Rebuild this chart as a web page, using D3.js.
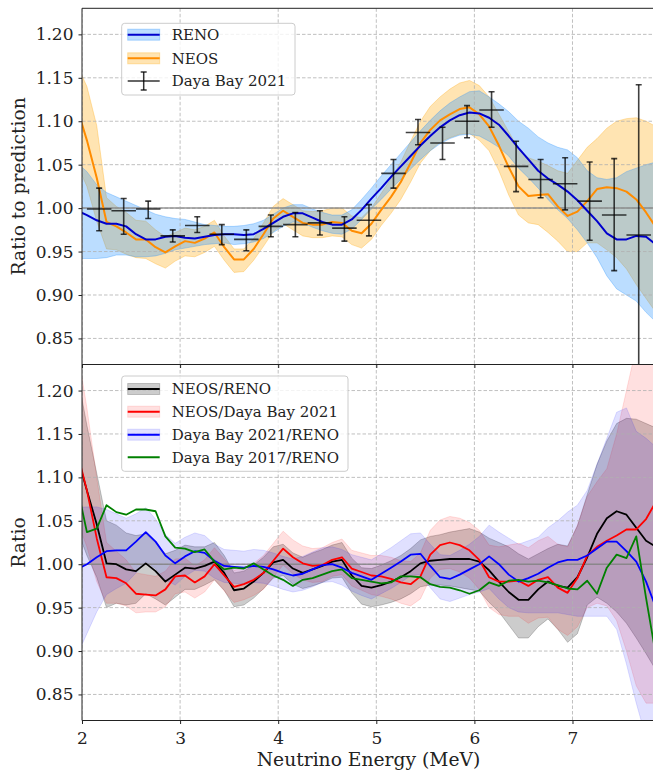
<!DOCTYPE html>
<html>
<head>
<meta charset="utf-8">
<script src="https://cdn.jsdelivr.net/npm/d3@7"></script>
<style>
  body { margin: 0; background: #fff; }
  svg { display: block; }
</style>
</head>
<body>
<svg id="chart"></svg>
<script>
// energy grid shared by all the curves (MeV)
const energy = [1.95, 2.05, 2.15, 2.25, 2.35, 2.45, 2.55, 2.65, 2.75, 2.85,
  2.95, 3.05, 3.15, 3.25, 3.35, 3.45, 3.55, 3.65, 3.75, 3.85,
  3.95, 4.05, 4.15, 4.25, 4.35, 4.45, 4.55, 4.65, 4.75, 4.85,
  4.95, 5.05, 5.15, 5.25, 5.35, 5.45, 5.55, 5.65, 5.75, 5.85,
  5.95, 6.05, 6.15, 6.25, 6.35, 6.45, 6.55, 6.65, 6.75, 6.85,
  6.95, 7.05, 7.15, 7.25, 7.35, 7.45, 7.55, 7.65, 7.75, 7.85];

// ---- top panel: ratio to prediction ----
const reno = [0.997, 0.992, 0.986, 0.982, 0.982, 0.979, 0.970, 0.964, 0.964, 0.967,
  0.968, 0.966, 0.965, 0.967, 0.969, 0.970, 0.970, 0.969, 0.970, 0.976,
  0.983, 0.990, 0.994, 0.994, 0.989, 0.984, 0.981, 0.981, 0.987, 0.998,
  1.011, 1.023, 1.036, 1.048, 1.060, 1.072, 1.083, 1.093, 1.101, 1.107,
  1.110, 1.109, 1.104, 1.096, 1.083, 1.069, 1.056, 1.043, 1.034, 1.027,
  1.019, 1.009, 0.997, 0.985, 0.971, 0.964, 0.964, 0.968, 0.967, 0.958];
const renoHi = [1.052, 1.042, 1.027, 1.018, 1.013, 1.008, 1.003, 0.998, 0.993, 0.990,
  0.988, 0.987, 0.984, 0.981, 0.980, 0.979, 0.979, 0.980, 0.982, 0.986,
  0.993, 1.000, 1.004, 1.004, 0.999, 0.995, 0.992, 0.992, 0.998, 1.010,
  1.023, 1.037, 1.050, 1.063, 1.076, 1.089, 1.101, 1.112, 1.121, 1.128,
  1.134, 1.135, 1.128, 1.120, 1.111, 1.100, 1.092, 1.082, 1.075, 1.070,
  1.067, 1.058, 1.043, 1.035, 1.033, 1.035, 1.042, 1.046, 1.050, 1.053];
const renoLo = [0.942, 0.942, 0.942, 0.943, 0.946, 0.946, 0.944, 0.944, 0.945, 0.948,
  0.952, 0.954, 0.956, 0.958, 0.959, 0.960, 0.958, 0.959, 0.961, 0.965,
  0.972, 0.979, 0.984, 0.983, 0.978, 0.974, 0.971, 0.970, 0.976, 0.987,
  0.999, 1.010, 1.022, 1.033, 1.045, 1.056, 1.066, 1.074, 1.080, 1.084,
  1.085, 1.083, 1.077, 1.070, 1.060, 1.046, 1.035, 1.023, 1.010, 0.998,
  0.988, 0.975, 0.960, 0.943, 0.922, 0.907, 0.900, 0.893, 0.880, 0.869];

const neos = [1.115, 1.078, 1.035, 0.984, 0.979, 0.972, 0.964, 0.964, 0.955, 0.949,
  0.956, 0.962, 0.960, 0.965, 0.972, 0.955, 0.941, 0.941, 0.953, 0.970,
  0.988, 0.997, 0.990, 0.983, 0.981, 0.981, 0.984, 0.983, 0.974, 0.971,
  0.982, 0.998, 1.013, 1.030, 1.052, 1.075, 1.090, 1.101, 1.108, 1.114,
  1.116, 1.108, 1.094, 1.072, 1.047, 1.025, 1.014, 1.015, 1.016, 1.002,
  0.991, 0.996, 1.008, 1.022, 1.024, 1.023, 1.019, 1.010, 0.995, 0.978];
const neosHi = [1.165, 1.140, 1.095, 1.012, 1.002, 0.995, 0.986, 0.985, 0.975, 0.967,
  0.972, 0.977, 0.975, 0.979, 0.986, 0.968, 0.953, 0.953, 0.965, 0.983,
  1.002, 1.011, 1.004, 0.997, 0.996, 0.997, 1.000, 1.000, 0.991, 0.989,
  1.000, 1.017, 1.034, 1.053, 1.077, 1.100, 1.117, 1.128, 1.137, 1.144,
  1.147, 1.141, 1.128, 1.108, 1.088, 1.068, 1.058, 1.054, 1.049, 1.043,
  1.040, 1.055, 1.070, 1.080, 1.092, 1.100, 1.103, 1.104, 1.100, 1.094];
const neosLo = [1.050, 1.025, 0.985, 0.953, 0.952, 0.947, 0.943, 0.942, 0.936, 0.931,
  0.939, 0.945, 0.944, 0.949, 0.956, 0.940, 0.926, 0.927, 0.940, 0.956,
  0.973, 0.982, 0.975, 0.968, 0.966, 0.966, 0.968, 0.967, 0.958, 0.954,
  0.964, 0.980, 0.994, 1.010, 1.030, 1.052, 1.066, 1.076, 1.081, 1.085,
  1.086, 1.078, 1.066, 1.043, 1.015, 0.992, 0.983, 0.981, 0.972, 0.962,
  0.950, 0.950, 0.960, 0.960, 0.952, 0.943, 0.930, 0.912, 0.896, 0.880];

// Daya Bay 2021 points (bin centres, half width 0.125 MeV)
const dybE = [2.175, 2.425, 2.675, 2.925, 3.175, 3.425, 3.675, 3.925, 4.175, 4.425, 4.675, 4.925,
  5.175, 5.425, 5.675, 5.925, 6.175, 6.425, 6.675, 6.925, 7.175, 7.425, 7.675];
const dybVal = [0.999, 0.997, 0.999, 0.968, 0.980, 0.970, 0.964, 0.979, 0.981, 0.983, 0.977, 0.986,
  1.040, 1.087, 1.075, 1.100, 1.113, 1.048, 1.033, 1.028, 1.008, 0.992, 0.969];
const dybHi = [1.023, 1.011, 1.008, 0.975, 0.990, 0.981, 0.975, 0.992, 0.995, 0.997, 0.990, 1.004,
  1.056, 1.102, 1.093, 1.118, 1.134, 1.077, 1.056, 1.058, 1.053, 1.057, 1.142];
const dybLo = [0.974, 0.970, 0.988, 0.961, 0.972, 0.958, 0.951, 0.967, 0.967, 0.969, 0.962, 0.968,
  1.023, 1.073, 1.056, 1.081, 1.093, 1.019, 1.012, 0.998, 0.963, 0.928, 0.790];
const dybHalfWidth = 0.125;

// ---- bottom panel: ratios between experiments ----
const neosReno = [1.125, 1.085, 1.046, 1.001, 1.000, 0.994, 0.992, 1.001, 0.992, 0.980,
  0.988, 0.996, 0.995, 0.998, 1.003, 0.990, 0.970, 0.972, 0.980, 0.990,
  1.002, 1.005, 0.995, 0.990, 0.994, 0.998, 1.003, 1.005, 0.987, 0.975,
  0.973, 0.976, 0.980, 0.985, 0.992, 1.001, 1.004, 1.005, 1.006, 1.006,
  1.006, 1.003, 0.993, 0.980, 0.968, 0.959, 0.959, 0.971, 0.980, 0.975,
  0.973, 0.985, 1.008, 1.035, 1.053, 1.061, 1.057, 1.042, 1.027, 1.020];
const neosRenoHi = [1.220, 1.160, 1.105, 1.050, 1.045, 1.036, 1.033, 1.035, 1.025, 1.012,
  1.016, 1.022, 1.020, 1.020, 1.025, 1.010, 0.990, 0.992, 0.999, 1.008,
  1.020, 1.023, 1.013, 1.008, 1.013, 1.017, 1.022, 1.025, 1.007, 0.996,
  0.995, 0.999, 1.004, 1.010, 1.018, 1.028, 1.032, 1.034, 1.037, 1.039,
  1.041, 1.037, 1.030, 1.025, 1.020, 1.012, 1.006, 1.012, 1.018, 1.023,
  1.021, 1.044, 1.080, 1.115, 1.142, 1.162, 1.168, 1.167, 1.162, 1.157];
const neosRenoLo = [1.040, 1.010, 0.985, 0.950, 0.955, 0.953, 0.955, 0.966, 0.960, 0.953,
  0.962, 0.971, 0.971, 0.976, 0.982, 0.970, 0.951, 0.953, 0.961, 0.972,
  0.984, 0.987, 0.977, 0.972, 0.975, 0.979, 0.984, 0.985, 0.967, 0.954,
  0.951, 0.953, 0.956, 0.960, 0.966, 0.974, 0.976, 0.976, 0.975, 0.973,
  0.971, 0.969, 0.956, 0.945, 0.930, 0.915, 0.915, 0.928, 0.937, 0.925,
  0.910, 0.920, 0.953, 0.962, 0.955, 0.945, 0.932, 0.915, 0.897, 0.878];

const neosDyb = [1.130, 1.085, 1.030, 0.985, 0.984, 0.978, 0.966, 0.965, 0.964, 0.971,
  0.986, 0.987, 0.979, 0.986, 1.000, 0.987, 0.974, 0.977, 0.982, 0.990,
  1.004, 1.018, 1.008, 1.001, 0.998, 0.999, 1.005, 1.008, 0.995, 0.991,
  0.987, 0.986, 0.983, 0.979, 0.977, 0.986, 1.011, 1.022, 1.025, 1.022,
  1.016, 1.005, 0.985, 0.980, 0.980, 0.981, 0.975, 0.982, 0.985, 0.973,
  0.967, 0.984, 1.010, 1.020, 1.027, 1.033, 1.040, 1.040, 1.052, 1.072];
const neosDybHi = [1.250, 1.180, 1.100, 1.025, 1.015, 1.005, 0.990, 0.988, 0.986, 0.992,
  1.006, 1.007, 0.998, 1.005, 1.019, 1.006, 0.993, 0.996, 1.001, 1.010,
  1.024, 1.038, 1.028, 1.021, 1.018, 1.019, 1.025, 1.029, 1.016, 1.013,
  1.010, 1.010, 1.008, 1.004, 1.003, 1.013, 1.039, 1.051, 1.055, 1.053,
  1.048, 1.039, 1.022, 1.020, 1.022, 1.024, 1.019, 1.027, 1.032, 1.023,
  1.020, 1.045, 1.078, 1.095, 1.110, 1.150, 1.200, 1.250, 1.290, 1.320];
const neosDybLo = [1.050, 1.020, 0.980, 0.955, 0.955, 0.952, 0.944, 0.945, 0.945, 0.951,
  0.966, 0.968, 0.961, 0.968, 0.982, 0.969, 0.956, 0.959, 0.964, 0.971,
  0.985, 0.999, 0.989, 0.982, 0.979, 0.980, 0.986, 0.988, 0.975, 0.970,
  0.965, 0.963, 0.960, 0.955, 0.952, 0.960, 0.984, 0.994, 0.995, 0.991,
  0.984, 0.971, 0.950, 0.942, 0.940, 0.940, 0.932, 0.938, 0.939, 0.925,
  0.918, 0.928, 0.950, 0.955, 0.952, 0.935, 0.900, 0.860, 0.840, 0.840];

const dybReno = [0.994, 1.000, 1.008, 1.015, 1.016, 1.016, 1.026, 1.037, 1.026, 1.010,
  1.001, 1.009, 1.015, 1.013, 1.004, 0.998, 0.997, 0.996, 0.998, 0.997,
  0.994, 0.990, 0.987, 0.989, 0.994, 0.999, 1.000, 0.996, 0.990, 0.986,
  0.982, 0.989, 0.996, 1.003, 1.011, 1.012, 0.998, 0.985, 0.983, 0.988,
  0.994, 1.000, 1.009, 1.000, 0.988, 0.980, 0.984, 0.989, 0.996, 1.002,
  1.005, 1.005, 1.010, 1.018, 1.026, 1.026, 1.015, 1.003, 0.980, 0.950];
const dybRenoHi = [1.065, 1.066, 1.066, 1.063, 1.058, 1.053, 1.058, 1.065, 1.052, 1.034,
  1.024, 1.031, 1.036, 1.033, 1.023, 1.017, 1.016, 1.015, 1.017, 1.016,
  1.013, 1.009, 1.006, 1.009, 1.014, 1.019, 1.020, 1.017, 1.011, 1.008,
  1.005, 1.012, 1.019, 1.027, 1.035, 1.036, 1.023, 1.011, 1.010, 1.016,
  1.023, 1.032, 1.045, 1.037, 1.030, 1.023, 1.027, 1.031, 1.042, 1.050,
  1.060, 1.068, 1.085, 1.115, 1.145, 1.175, 1.180, 1.153, 1.145, 1.135];
const dybRenoLo = [0.895, 0.920, 0.945, 0.965, 0.972, 0.978, 0.990, 1.003, 0.995, 0.982,
  0.976, 0.986, 0.993, 0.992, 0.984, 0.979, 0.978, 0.977, 0.979, 0.978,
  0.975, 0.971, 0.968, 0.970, 0.974, 0.979, 0.980, 0.976, 0.969, 0.964,
  0.960, 0.966, 0.972, 0.979, 0.987, 0.988, 0.973, 0.960, 0.957, 0.961,
  0.965, 0.968, 0.972, 0.960, 0.950, 0.945, 0.944, 0.944, 0.944, 0.944,
  0.942, 0.940, 0.940, 0.940, 0.940, 0.925, 0.885, 0.840, 0.800, 0.780];

const dyb17Reno = [1.090, 1.037, 1.041, 1.068, 1.060, 1.057, 1.063, 1.063, 1.061, 1.032,
  1.019, 1.018, 1.014, 1.017, 1.003, 0.994, 0.996, 0.995, 1.001, 0.994,
  0.987, 0.982, 0.975, 0.982, 0.984, 0.988, 0.992, 0.994, 0.984, 0.982,
  0.980, 0.978, 0.979, 0.986, 0.986, 0.985, 0.977, 0.974, 0.973, 0.970,
  0.966, 0.970, 0.979, 0.975, 0.981, 0.982, 0.980, 0.981, 0.979, 0.976,
  0.972, 0.971, 0.981, 0.966, 0.996, 1.011, 1.007, 1.032, 0.961, 0.895];

const yTickValues = [0.85, 0.90, 0.95, 1.00, 1.05, 1.10, 1.15, 1.20];
const xTickValues = [2, 3, 4, 5, 6, 7];

const W = 653, H = 772;
const font = "DejaVu Serif, serif";

const svg = d3.select("#chart")
    .attr("width", W)
    .attr("height", H)
    .style("font-family", font);

const plotLeft = 82, plotRight = 653;
const x = d3.scaleLinear().domain([2, 7.8206]).range([plotLeft, plotRight]);
const yTop = d3.scaleLinear().domain([0.82, 1.23]).range([364.5, 8.3]);
const yBot = d3.scaleLinear().domain([0.82, 1.23]).range([720.5, 364.5]);

function addClip(id, y) {
    const [b, t] = y.range();
    svg.append("clipPath").attr("id", id)
        .append("rect")
        .attr("x", plotLeft).attr("y", t)
        .attr("width", plotRight - plotLeft).attr("height", b - t);
    return svg.append("g").attr("clip-path", "url(#" + id + ")");
}

function band(g, y, lo, hi, color, alpha) {
    const area = d3.area()
        .x((d, i) => x(energy[i]))
        .y0((d, i) => y(lo[i]))
        .y1((d, i) => y(hi[i]));
    g.append("path")
        .attr("d", area(energy))
        .attr("fill", color)
        .attr("fill-opacity", alpha)
        .attr("stroke", color)
        .attr("stroke-opacity", alpha)
        .attr("stroke-width", 1);
}

function curve(g, y, vals, color, width) {
    const line = d3.line()
        .x((d, i) => x(energy[i]))
        .y(d => y(d));
    g.append("path")
        .attr("d", line(vals))
        .attr("fill", "none")
        .attr("stroke", color)
        .attr("stroke-width", width)
        .attr("stroke-linejoin", "round");
}

function grid(g, y) {
    const [b, t] = y.range();
    g.selectAll(null).data(xTickValues).enter().append("line")
        .attr("x1", d => x(d)).attr("x2", d => x(d))
        .attr("y1", t).attr("y2", b)
        .attr("stroke", "#b0b0b0").attr("stroke-width", 0.8)
        .attr("stroke-dasharray", "3.5,2");
    g.selectAll(null).data(yTickValues).enter().append("line")
        .attr("x1", plotLeft).attr("x2", plotRight)
        .attr("y1", d => y(d)).attr("y2", d => y(d))
        .attr("stroke", "#b0b0b0").attr("stroke-width", 0.8)
        .attr("stroke-dasharray", "3.5,2");
}

function unityLine(g, y) {
    g.append("line")
        .attr("x1", plotLeft).attr("x2", plotRight)
        .attr("y1", y(1)).attr("y2", y(1))
        .attr("stroke", "#7f7f7f").attr("stroke-width", 1.5)
        .attr("stroke-opacity", 0.8);
}

function yAxis(y, label) {
    const ax = svg.append("g")
        .attr("transform", "translate(" + plotLeft + ",0)")
        .call(d3.axisLeft(y).tickValues(yTickValues).tickFormat(d3.format(".2f"))
            .tickSize(3.5).tickPadding(5));
    ax.select(".domain").remove();
    ax.selectAll("text").attr("font-family", font).attr("font-size", 17).attr("fill", "#222");
    ax.selectAll("line").attr("stroke", "#222");
    const [b, t] = y.range();
    svg.append("text")
        .attr("transform", "translate(24.5," + ((b + t) / 2) + ") rotate(-90)")
        .attr("text-anchor", "middle")
        .attr("font-size", 18.7)
        .attr("fill", "#222")
        .text(label);
}

function xAxis(y, showLabels) {
    const ax = svg.append("g")
        .attr("transform", "translate(0," + y.range()[0] + ")")
        .call(d3.axisBottom(x).tickValues(xTickValues).tickFormat(showLabels ? d3.format("d") : "")
            .tickSize(3.5).tickPadding(8));
    ax.select(".domain").remove();
    ax.selectAll("text").attr("font-family", font).attr("font-size", 17).attr("fill", "#222");
    ax.selectAll("line").attr("stroke", "#222");
}

// ---------- top panel ----------
const gTop = addClip("clipTop", yTop);
band(gTop, yTop, neosLo, neosHi, "orange", 0.3);
band(gTop, yTop, renoLo, renoHi, "dodgerblue", 0.3);
grid(gTop, yTop);
unityLine(gTop, yTop);
curve(gTop, yTop, neos, "darkorange", 2);
curve(gTop, yTop, reno, "mediumblue", 2);

// Daya Bay error bars
const dyb = gTop.append("g").attr("stroke", "#000").attr("stroke-opacity", 0.75).attr("stroke-width", 1.6);
dyb.selectAll(null).data(dybE).enter().append("line")
    .attr("x1", d => x(d - dybHalfWidth)).attr("x2", d => x(d + dybHalfWidth))
    .attr("y1", (d, i) => yTop(dybVal[i])).attr("y2", (d, i) => yTop(dybVal[i]));
dyb.selectAll(null).data(dybE).enter().append("line")
    .attr("x1", d => x(d)).attr("x2", d => x(d))
    .attr("y1", (d, i) => yTop(dybLo[i])).attr("y2", (d, i) => yTop(dybHi[i]));
dyb.selectAll(null).data(dybE.concat(dybE)).enter().append("line")
    .attr("x1", d => x(d) - 3).attr("x2", d => x(d) + 3)
    .attr("y1", (d, i) => yTop(i < dybE.length ? dybHi[i] : dybLo[i - dybE.length]))
    .attr("y2", (d, i) => yTop(i < dybE.length ? dybHi[i] : dybLo[i - dybE.length]));

// ---------- bottom panel ----------
const gBot = addClip("clipBot", yBot);
band(gBot, yBot, neosRenoLo, neosRenoHi, "black", 0.2);
band(gBot, yBot, neosDybLo, neosDybHi, "red", 0.12);
band(gBot, yBot, dybRenoLo, dybRenoHi, "blue", 0.12);
grid(gBot, yBot);
unityLine(gBot, yBot);
curve(gBot, yBot, neosReno, "black", 1.8);
curve(gBot, yBot, neosDyb, "red", 1.8);
curve(gBot, yBot, dybReno, "blue", 1.8);
curve(gBot, yBot, dyb17Reno, "green", 1.8);

// ---------- spines and axes ----------
[[8.3, 8.3], [364.5, 364.5], [720.5, 720.5]].forEach(([y1, y2]) => {
    svg.append("line")
        .attr("x1", plotLeft).attr("x2", plotRight + 2)
        .attr("y1", y1).attr("y2", y2)
        .attr("stroke", "#222").attr("stroke-width", 1);
});
svg.append("line")
    .attr("x1", plotLeft).attr("x2", plotLeft)
    .attr("y1", 8.3).attr("y2", 720.5)
    .attr("stroke", "#222").attr("stroke-width", 1);

yAxis(yTop, "Ratio to prediction");
yAxis(yBot, "Ratio");
xAxis(yTop, false);
xAxis(yBot, true);

svg.append("text")
    .attr("x", (plotLeft + plotRight) / 2 + 1)
    .attr("y", 766)
    .attr("text-anchor", "middle")
    .attr("font-size", 18.7)
    .attr("fill", "#222")
    .text("Neutrino Energy (MeV)");

// ---------- legends ----------
function legend(x0, y0, w, rowY, entries) {
    const g = svg.append("g");
    g.append("rect")
        .attr("x", x0).attr("y", y0)
        .attr("width", w).attr("height", rowY[rowY.length - 1] - y0 + 14)
        .attr("rx", 3)
        .attr("fill", "#fff").attr("fill-opacity", 0.8)
        .attr("stroke", "#ccc").attr("stroke-width", 1);
    entries.forEach((e, i) => {
        const cy = rowY[i];
        const hx0 = x0 + 6, hx1 = x0 + 38;
        if (e.band) {
            g.append("rect")
                .attr("x", hx0).attr("y", cy - 5.5)
                .attr("width", hx1 - hx0).attr("height", 11)
                .attr("fill", e.band).attr("fill-opacity", e.alpha)
                .attr("stroke", e.band).attr("stroke-opacity", e.alpha);
        }
        if (e.errorbar) {
            const eb = g.append("g").attr("stroke", "#000").attr("stroke-opacity", 0.8).attr("stroke-width", 1.5);
            const mx = (hx0 + hx1) / 2;
            eb.append("line").attr("x1", hx0).attr("x2", hx1).attr("y1", cy).attr("y2", cy);
            eb.append("line").attr("x1", mx).attr("x2", mx).attr("y1", cy - 9).attr("y2", cy + 9);
            eb.append("line").attr("x1", mx - 3).attr("x2", mx + 3).attr("y1", cy - 9).attr("y2", cy - 9);
            eb.append("line").attr("x1", mx - 3).attr("x2", mx + 3).attr("y1", cy + 9).attr("y2", cy + 9);
        } else {
            g.append("line")
                .attr("x1", hx0).attr("x2", hx1)
                .attr("y1", cy).attr("y2", cy)
                .attr("stroke", e.color).attr("stroke-width", 2);
        }
        g.append("text")
            .attr("x", x0 + 50).attr("y", cy)
            .attr("dy", "0.35em")
            .attr("font-size", 15)
            .attr("fill", "#222")
            .text(e.label);
    });
}

legend(121.7, 23.3, 173.3, [34.7, 58.3, 81], [
    {label: "RENO", color: "mediumblue", band: "dodgerblue", alpha: 0.3},
    {label: "NEOS", color: "darkorange", band: "orange", alpha: 0.3},
    {label: "Daya Bay 2021", errorbar: true}
]);

legend(121.7, 376, 226.3, [389, 411.7, 434.7, 457.3], [
    {label: "NEOS/RENO", color: "black", band: "black", alpha: 0.2},
    {label: "NEOS/Daya Bay 2021", color: "red", band: "red", alpha: 0.12},
    {label: "Daya Bay 2021/RENO", color: "blue", band: "blue", alpha: 0.12},
    {label: "Daya Bay 2017/RENO", color: "green"}
]);
</script>
</body>
</html>
